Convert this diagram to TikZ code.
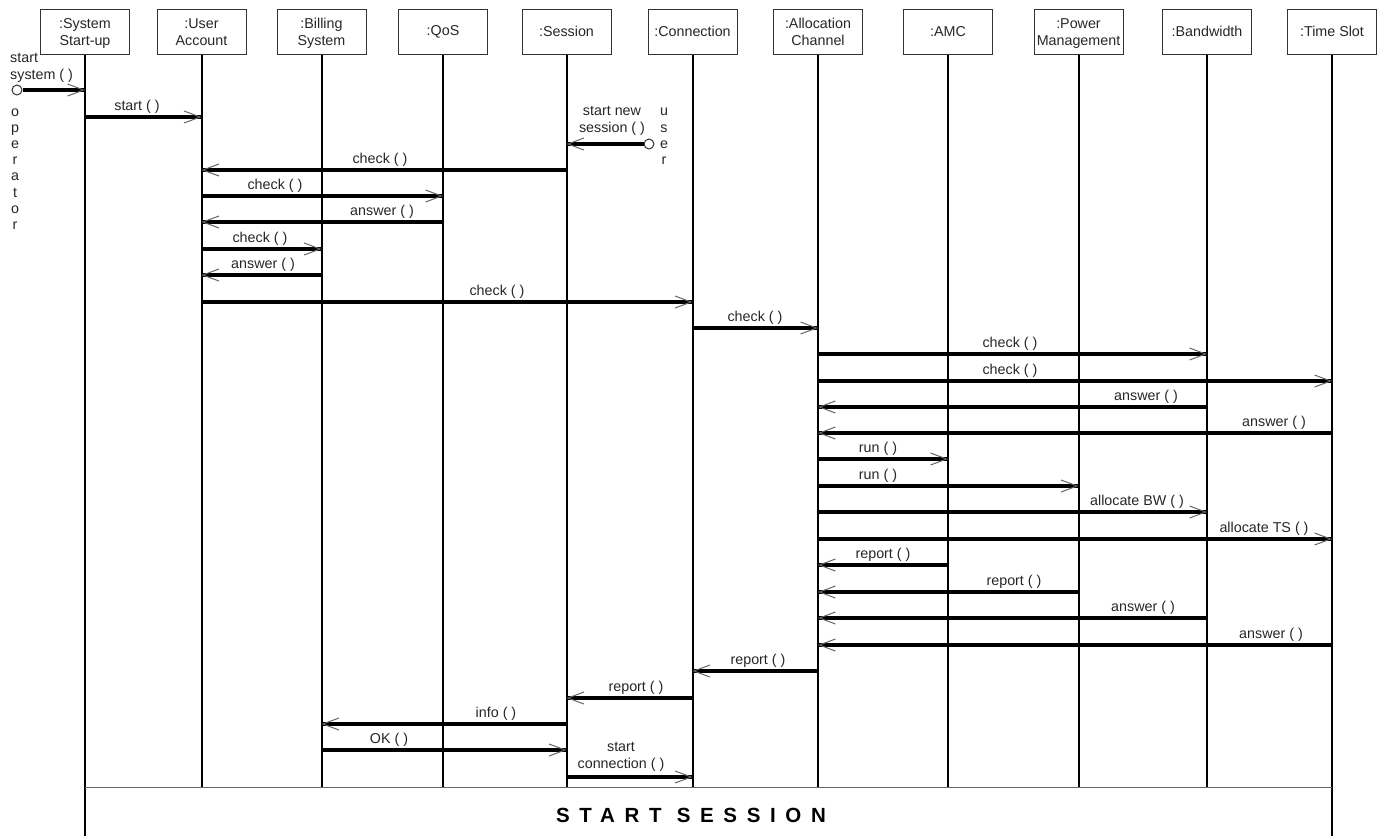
\documentclass[tikz,border=0pt]{standalone}
\usepackage{fontspec}
\setmainfont{Liberation Sans}
\usetikzlibrary{arrows.meta}

% one message: y, sender, receiver, label x, label text
\newcommand\seqmsg[5]{%
  \draw[msg] (#2 |- 0,#1) -- (#3 |- 0,#1);
  \node[lbl] (lab#1) at (#4,#1-7) {#5};
}

\begin{document}
\begin{tikzpicture}[x=1pt,y=-1pt,
  every node/.style={text=black!85},
  head/.style={draw=black!80, line width=1pt, minimum width=89pt, minimum height=45pt,
               inner sep=0pt, align=center, font=\fontsize{14.3}{16.5}\selectfont},
  headtwo/.style={head, text height=27pt, text depth=0pt},
  lifeline/.style={line width=2pt, black},
  % thick shaft running right up to the lifeline, open barb drawn on top
  msg/.style={line width=3.2pt, black,
              postaction={draw, line width=0.01pt,
                -{Straight Barb[length=16pt,width=12pt,line width=1pt,color=black!60]}}},
  lbl/.style={anchor=base, font=\fontsize{14.3}{16.5}\selectfont, inner sep=0pt},
  actor/.style={circle, draw=black!80, line width=1pt, fill=white, minimum size=10pt, inner sep=0pt},
  frameline/.style={line width=1pt, black!60}
]
\useasboundingbox (0,0) rectangle (1384,836);

% object heads
\node[headtwo] (sys)  at (85,31.5)     {:System\\Start-up};
\node[headtwo] (ua)   at (201.5,31.5)  {:User\\Account};
\node[headtwo] (bill) at (321.5,31.5)  {:Billing\\System};
\node[head]    (qos)  at (443,31.5)    {:QoS};
\node[head]    (ses)  at (566.5,31.5)  {:Session};
\node[head]    (con)  at (692.5,31.5)  {:Connection};
\node[headtwo] (alc)  at (818,31.5)    {:Allocation\\Channel};
\node[head]    (amc)  at (948,31.5)    {:AMC};
\node[headtwo] (pwr)  at (1078.5,31.5) {:Power\\Management};
\node[head]    (bw)   at (1207,31.5)   {:Bandwidth};
\node[head]    (ts)   at (1332,31.5)   {:Time Slot};

% lifelines
\foreach \n in {ua,bill,qos,ses,con,alc,amc,pwr,bw}
  \draw[lifeline] (\n.south) -- (\n.south |- 0,787);
\draw[lifeline] (sys.south) -- (sys.south |- 0,836);
\draw[lifeline] (ts.south) -- (ts.south |- 0,836);

% frame of the interaction
\draw[frameline] (sys |- 0,787) -- (ts |- 0,787);
\node[anchor=west, inner sep=0pt, text=black,
      font=\fontsize{20.5}{22}\selectfont\bfseries\addfontfeature{LetterSpace=47}]
      (title) at (556,815.5) {START SESSION};

% operator actor
\node[actor] (opc) at (17,90) {};
\node[lbl, anchor=base west, align=left] (sslab) at (10,79) {start\\system ( )};
\draw[msg] (opc) -- (sys |- opc);
\foreach \c [count=\i] in {o,p,e,r,a,t,o,r}
  \node[lbl] (op\i) at (15,99.8+16.2*\i) {\c};

% user actor
\node[actor] (usc) at (649,144) {};
\node[lbl, align=center] (snlab) at (612,132) {start new\\session ( )};
\draw[msg] (usc) -- (ses |- usc);
\foreach \c [count=\i] in {u,s,e,r}
  \node[lbl] (us\i) at (664,99.6+16.3*\i) {\c};

% messages
\seqmsg{117}{sys}{ua}{137}{start ( )}
\seqmsg{170}{ses}{ua}{380}{check ( )}
\seqmsg{196}{ua}{qos}{275}{check ( )}
\seqmsg{222}{qos}{ua}{382}{answer ( )}
\seqmsg{249}{ua}{bill}{260}{check ( )}
\seqmsg{275}{bill}{ua}{263}{answer ( )}
\seqmsg{302}{ua}{con}{497}{check ( )}
\seqmsg{328}{con}{alc}{755}{check ( )}
\seqmsg{354}{alc}{bw}{1010}{check ( )}
\seqmsg{381}{alc}{ts}{1010}{check ( )}
\seqmsg{407}{bw}{alc}{1146}{answer ( )}
\seqmsg{433}{ts}{alc}{1274}{answer ( )}
\seqmsg{459}{alc}{amc}{878}{run ( )}
\seqmsg{486}{alc}{pwr}{878}{run ( )}
\seqmsg{512}{alc}{bw}{1137}{allocate BW ( )}
\seqmsg{539}{alc}{ts}{1264}{allocate TS ( )}
\seqmsg{565}{amc}{alc}{883}{report ( )}
\seqmsg{592}{pwr}{alc}{1014}{report ( )}
\seqmsg{618}{bw}{alc}{1143}{answer ( )}
\seqmsg{645}{ts}{alc}{1271}{answer ( )}
\seqmsg{671}{alc}{con}{758}{report ( )}
\seqmsg{698}{con}{ses}{636}{report ( )}
\seqmsg{724}{ses}{bill}{496}{info ( )}
\seqmsg{750}{bill}{ses}{389}{OK ( )}
\draw[msg] (ses |- 0,777) -- (con |- 0,777);
\node[lbl, align=center] (sclab) at (621,768) {start\\connection ( )};

\end{tikzpicture}
\end{document}
